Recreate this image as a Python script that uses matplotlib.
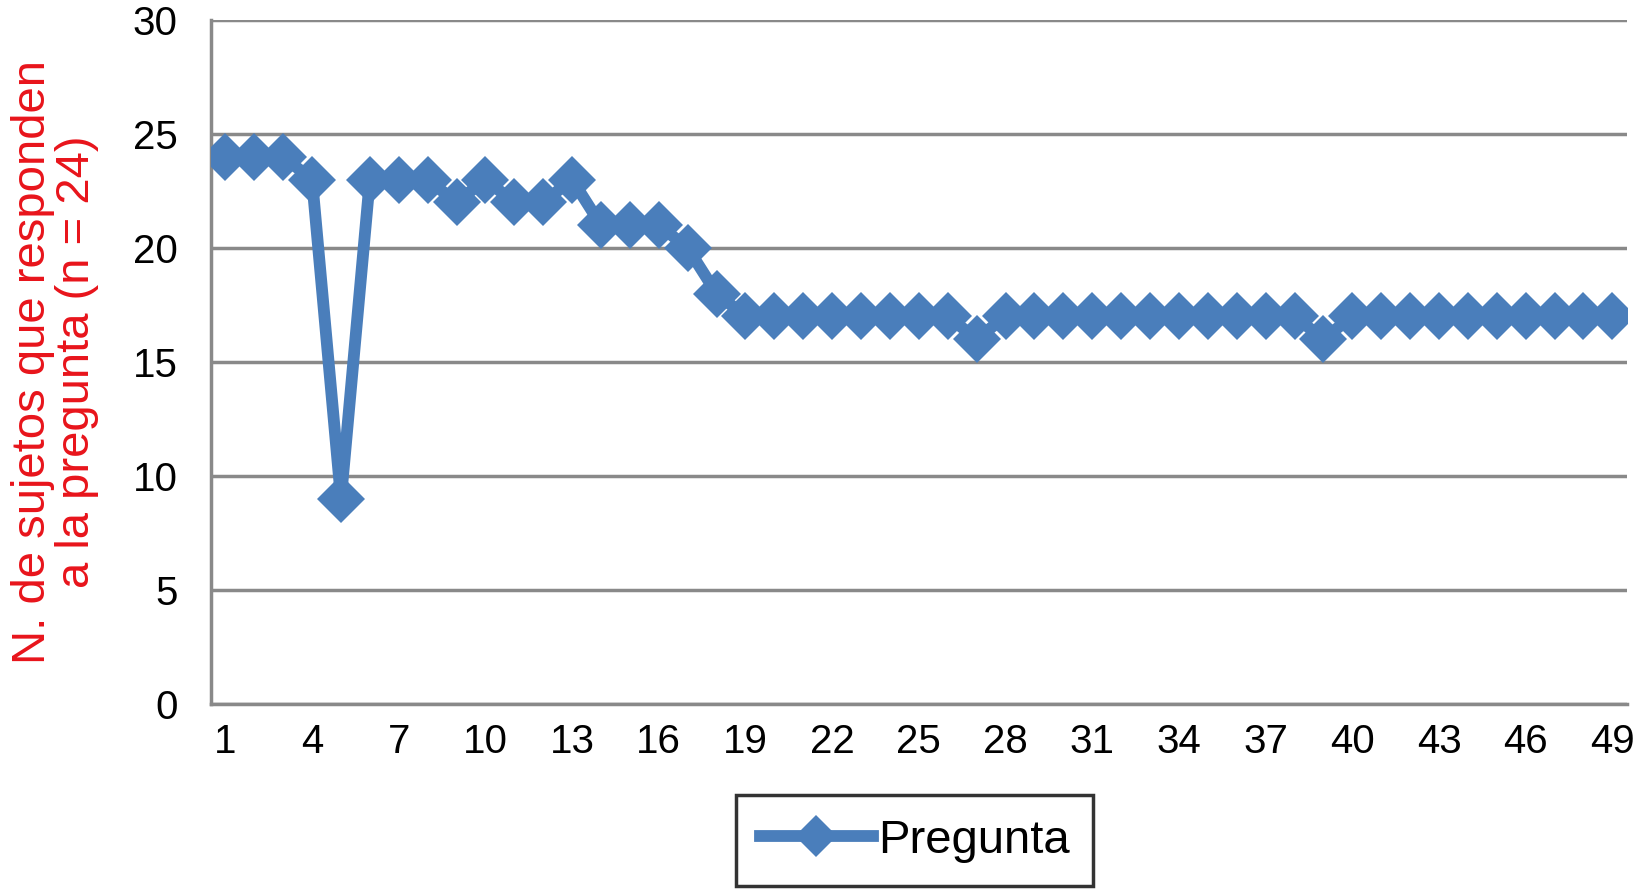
import matplotlib
matplotlib.use("Agg")
import matplotlib.pyplot as plt

preguntas = list(range(1, 50))
# number of respondents per question (16 at questions 27 and 39)
respuestas = [24, 24, 24, 23, 9, 23, 23, 23, 22, 23,
              22, 22, 23, 21, 21, 21, 20, 18, 17, 17,
              17, 17, 17, 17, 17, 17, 16, 17, 17, 17,
              17, 17, 17, 17, 17, 17, 17, 17, 16, 17,
              17, 17, 17, 17, 17, 17, 17, 17, 17]
xticks = list(range(1, 50, 3))
yticks = [0, 5, 10, 15, 20, 25, 30]

plt.rcParams['font.family'] = ['Liberation Sans', 'DejaVu Sans']

fig = plt.figure(figsize=(16.35, 8.91), dpi=100)
ax = fig.add_axes([0.129, 0.21, 0.866, 0.7676])

ax.plot(preguntas, respuestas, color='#4a7ebb', linewidth=8.5, marker='D',
        markersize=24, markeredgewidth=0, label='Pregunta', zorder=3)

ax.set_xlim(0.5, 49.5)
ax.set_ylim(0, 30)
ax.set_xticks(xticks)
ax.set_yticks(yticks)
ax.tick_params(axis='both', length=0, labelsize=29, pad=14)
ax.tick_params(axis='y', pad=24)
ax.grid(axis='y', color='#898989', linewidth=2.5)
ax.set_axisbelow(True)
for side in ['top', 'right']:
    ax.spines[side].set_visible(False)
for side in ['left', 'bottom']:
    ax.spines[side].set_color('#898989')
    ax.spines[side].set_linewidth(2.5)

ax.set_ylabel('N. de sujetos que responden\na la pregunta (n = 24)', color='#e8141b',
              fontsize=34, labelpad=24, linespacing=1.0)

leg = ax.legend(loc='center', bbox_to_anchor=(0.497, -0.2), fontsize=34,
                frameon=True, fancybox=False, handlelength=2.4, handletextpad=0.1,
                borderpad=0.5, markerscale=0.9)
leg.get_frame().set_edgecolor('black')
leg.get_frame().set_linewidth(2.5)

fig.savefig('out.png', dpi=100)
